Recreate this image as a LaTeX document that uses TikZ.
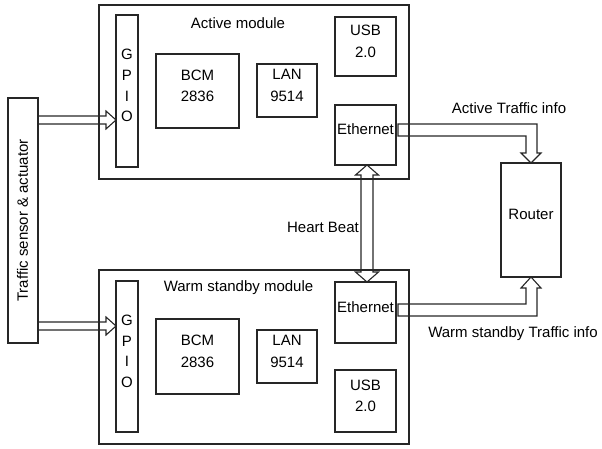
\documentclass[tikz,border=0pt]{standalone}
\usepackage{fontspec}
\setmainfont{Liberation Sans}
\usetikzlibrary{fit,calc}
\begin{document}
\begin{tikzpicture}[x=1pt,y=-1pt,
  every node/.style={font=\fontsize{15}{21.5}\selectfont, text=black},
  blk/.style={draw=black!85, line width=1.1pt, inner sep=0pt, outer sep=0pt, align=center},
  conn/.style={draw=black!85, line width=1.1pt, line join=miter},
  lbl/.style={inner sep=0pt}]
\useasboundingbox (0,0) rectangle (602,448);
% sensor
\node[blk, fit={(8,98) (38,343)}] (sensor) {};
\node[lbl, rotate=90] (sensortxt) at (22.5,220.5) {Traffic sensor \& actuator};
% active module
\node[blk, fit={(99,5) (409,179)}] (act) {};
\node[lbl] (acttxt) at (238,23) {Active module};
\node[blk, fit={(116,15) (138,167)}, font=\fontsize{15}{20.7}\selectfont] (gpio1) {G\\P\\I\\O};
\node[blk, fit={(156,54) (239,128)}] (bcm1) {BCM\\2836};
\node[blk, fit={(257,64) (317,117)}] (lan1) {LAN\\9514};
\node[blk, fit={(335,17) (396,76)}] (usb1) {USB\\2.0};
\node[blk, fit={(335,105) (396,165)}] (eth1) {Ethernet};
% standby module
\node[blk, fit={(99,270) (409,444)}] (stb) {};
\node[lbl] (stbtxt) at (238.5,288) {Warm standby module};
\node[blk, fit={(116,281) (138,432)}, font=\fontsize{15}{20.7}\selectfont] (gpio2) {G\\P\\I\\O};
\node[blk, fit={(156,319) (239,394)}] (bcm2) {BCM\\2836};
\node[blk, fit={(257,330) (317,383)}] (lan2) {LAN\\9514};
\node[blk, fit={(335,282) (396,343)}] (eth2) {Ethernet};
\node[blk, fit={(335,370) (396,432)}] (usb2) {USB\\2.0};
% router
\node[blk, fit={(501,163) (561,277)}] (router) {Router};
% labels
\node[lbl] (atxt) at (509,108) {Active Traffic info};
\node[lbl] (wtxt) at (513,334) {Warm standby Traffic info};
\node[lbl] (hbtxt) at (323,227) {Heart Beat};
% helper levels
\coordinate (yA) at (0,120);
\coordinate (yB) at (0,326);
\coordinate (yC) at (0,130);
\coordinate (yD) at (0,310);
\coordinate (xH) at (367,0);
% sensor -> gpio1
\coordinate (t1) at (gpio1.west |- yA);
\coordinate (s1) at (sensor.east |- yA);
\draw[conn] ($(s1)+(0,-4)$) -- ($(t1)+(-10,-4)$) -- ($(t1)+(-10,-9)$) -- (t1)
  -- ($(t1)+(-10,9)$) -- ($(t1)+(-10,4)$) -- ($(s1)+(0,4)$);
% sensor -> gpio2
\coordinate (t2) at (gpio2.west |- yB);
\coordinate (s2) at (sensor.east |- yB);
\draw[conn] ($(s2)+(0,-4)$) -- ($(t2)+(-10,-4)$) -- ($(t2)+(-10,-9)$) -- (t2)
  -- ($(t2)+(-10,9)$) -- ($(t2)+(-10,4)$) -- ($(s2)+(0,4)$);
% heart beat
\coordinate (hb1) at (eth1.south -| xH);
\coordinate (hb2) at (eth2.north -| xH);
\draw[conn] (hb1) -- ($(hb1)+(11.5,10)$) -- ($(hb1)+(6,10)$) -- ($(hb2)+(6,-10)$)
  -- ($(hb2)+(11.5,-10)$) -- (hb2) -- ($(hb2)+(-11.5,-10)$) -- ($(hb2)+(-6,-10)$)
  -- ($(hb1)+(-6,10)$) -- ($(hb1)+(-11.5,10)$) -- cycle;
% active traffic
\coordinate (rt) at (router.north);
\coordinate (ea) at (eth1.east |- yC);
\coordinate (ra) at (rt |- yC);
\draw[conn] ($(ea)+(2,-6)$) -- ($(ra)+(6,-6)$) -- ($(rt)+(6,-10)$)
  -- ($(rt)+(10,-10)$) -- (rt) -- ($(rt)+(-10,-10)$) -- ($(rt)+(-5,-10)$)
  -- ($(ra)+(-5,6)$) -- ($(ea)+(2,6)$) -- cycle;
% warm traffic
\coordinate (rb) at (router.south);
\coordinate (ew) at (eth2.east |- yD);
\coordinate (rw) at (rb |- yD);
\draw[conn] ($(ew)+(2,-6)$) -- ($(rw)+(-5,-6)$) -- ($(rb)+(-5,11)$)
  -- ($(rb)+(-10,11)$) -- (rb) -- ($(rb)+(10,11)$) -- ($(rb)+(6,11)$)
  -- ($(rw)+(6,6)$) -- ($(ew)+(2,6)$) -- cycle;
\end{tikzpicture}
\end{document}
